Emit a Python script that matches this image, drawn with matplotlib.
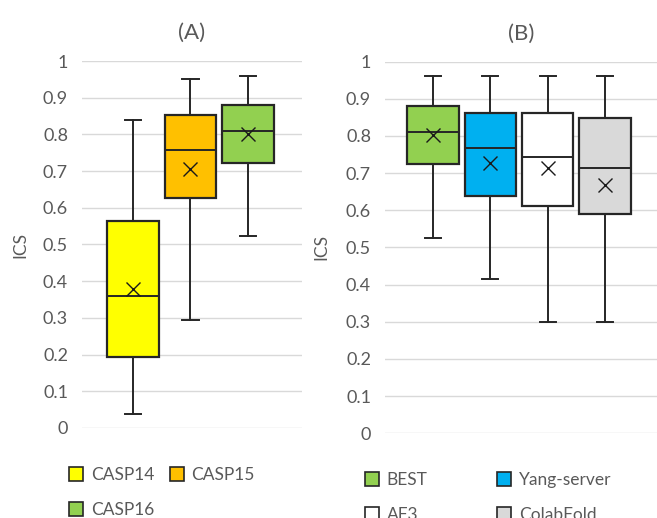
"""Box plots of ICS: (A) CASP14/15/16, (B) BEST vs. servers."""

import matplotlib

matplotlib.use("Agg")
import matplotlib.pyplot as plt
from matplotlib.patches import Patch
from matplotlib.ticker import FormatStrFormatter, MultipleLocator

plt.rcParams["font.family"] = ["Lato", "DejaVu Sans"]

# panel A: CASP rounds
CASP_NAMES = ["CASP14", "CASP15", "CASP16"]
CASP_COLORS = ["#FFFF00", "#FFC000", "#92D050"]
CASP_LOW = [0.038, 0.294, 0.523]
CASP_Q1 = [0.194, 0.628, 0.723]
CASP_MED = [0.360, 0.758, 0.810]
CASP_MEAN = [0.378, 0.706, 0.800]
CASP_Q3 = [0.565, 0.853, 0.879]
CASP_HIGH = [0.839, 0.952, 0.959]

# panel B: methods on CASP16
METH_NAMES = ["BEST", "Yang-server", "AF3", "ColabFold"]
METH_COLORS = ["#92D050", "#00B0F0", "#FFFFFF", "#D9D9D9"]
METH_LOW = [0.525, 0.416, 0.300, 0.300]
METH_Q1 = [0.724, 0.639, 0.612, 0.590]
METH_MED = [0.811, 0.768, 0.744, 0.715]
METH_MEAN = [0.802, 0.728, 0.713, 0.667]
METH_Q3 = [0.881, 0.861, 0.861, 0.847]
METH_HIGH = [0.961, 0.961, 0.961, 0.961]

TXT = "#595959"
EDGE = "#262626"


def stats(names, low, q1, med, mean, q3, high):
    return [
        dict(label=n, whislo=a, q1=b, med=c, mean=d, q3=e, whishi=f, fliers=[])
        for n, a, b, c, d, e, f in zip(names, low, q1, med, mean, q3, high)
    ]


def draw(ax, st, colors, xlim, title):
    pos = list(range(1, len(st) + 1))
    line = dict(color=EDGE, linewidth=1.4)
    res = ax.bxp(
        st,
        positions=pos,
        widths=0.9,
        capwidths=0.28,
        patch_artist=True,
        showmeans=True,
        boxprops=dict(edgecolor=EDGE, linewidth=1.6),
        whiskerprops=line,
        capprops=line,
        medianprops=line,
        meanprops=dict(marker="x", markersize=10, markeredgecolor="#1a1a1a",
                       markeredgewidth=1.0),
    )
    for box, c in zip(res["boxes"], colors):
        box.set_facecolor(c)
    ax.set_xlim(*xlim)
    ax.set_ylim(0, 1)
    ax.set_xticks([])
    ax.yaxis.set_major_locator(MultipleLocator(0.1))
    ax.yaxis.set_major_formatter(FormatStrFormatter("%g"))
    ax.tick_params(axis="y", length=0, pad=10, labelsize=13, labelcolor=TXT)
    ax.yaxis.grid(True, color="#d9d9d9", linewidth=1.0)
    ax.set_axisbelow(True)
    for s in ax.spines.values():
        s.set_visible(False)
    ax.set_ylabel("ICS", fontsize=12.5, color=TXT)
    ax.set_title(title, fontsize=16, color=TXT, pad=16)


fig = plt.figure(figsize=(6.57, 5.18), dpi=100)
ax_a = fig.add_axes([82 / 657, 90 / 518, 220 / 657, 367 / 518])
ax_b = fig.add_axes([385 / 657, 84.7 / 518, 272 / 657, 371.7 / 518])

draw(ax_a, stats(CASP_NAMES, CASP_LOW, CASP_Q1, CASP_MED, CASP_MEAN, CASP_Q3, CASP_HIGH),
     CASP_COLORS, (0.113, 3.94), "(A)")
draw(ax_b, stats(METH_NAMES, METH_LOW, METH_Q1, METH_MED, METH_MEAN, METH_Q3, METH_HIGH),
     METH_COLORS, (0.16, 4.91), "(B)")
ax_a.yaxis.set_label_coords(-0.245, 0.5)
ax_b.yaxis.set_label_coords(-0.205, 0.5)


def legend(names, colors, order, anchor, colspace):
    handles = [Patch(facecolor=colors[i], edgecolor=EDGE, linewidth=1.2, label=names[i])
               for i in order]
    fig.legend(
        handles=handles,
        loc="center left",
        bbox_to_anchor=anchor,
        ncol=2,
        frameon=False,
        fontsize=12.5,
        labelcolor=TXT,
        handlelength=0.8,
        handleheight=0.8,
        handletextpad=0.45,
        columnspacing=colspace,
        labelspacing=1.1,
        borderpad=0,
        borderaxespad=0,
    )


legend(CASP_NAMES, CASP_COLORS, [0, 2, 1], (69 / 657, 25.5 / 518), 0.9)
legend(METH_NAMES, METH_COLORS, [0, 2, 1, 3], (365 / 657, 20.5 / 518), 4.0)

fig.savefig("out.png", dpi=100)
